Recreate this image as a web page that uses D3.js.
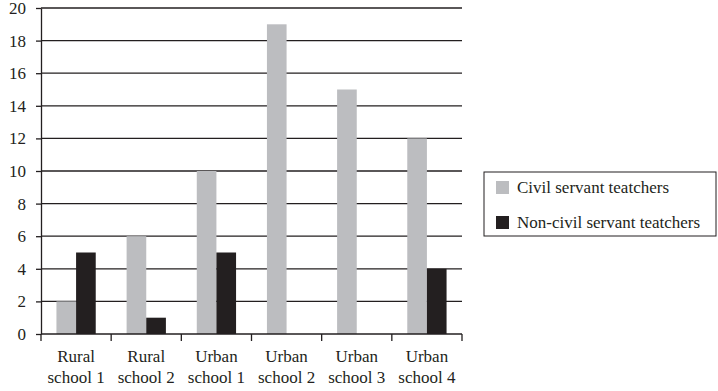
<!DOCTYPE html>
<html>
<head>
<meta charset="utf-8">
<script src="https://cdn.jsdelivr.net/npm/d3@7"></script>
<style>
  body { margin: 0; background: #fff; }
  text { font-family: "Liberation Serif", serif; }
</style>
</head>
<body>
<script>
// chart data
var schools = [["Rural", "school 1"], ["Rural", "school 2"], ["Urban", "school 1"],
               ["Urban", "school 2"], ["Urban", "school 3"], ["Urban", "school 4"]]
var civil = [2, 6, 10, 19, 15, 12]
var nonCivil = [5, 1, 5, 0, 0, 4]
var seriesNames = ["Civil servant teatchers", "Non-civil servant teatchers"]
var yTicks = [0, 2, 4, 6, 8, 10, 12, 14, 16, 18, 20]

var colors = ["#bcbdc0", "#231f20"]
var W = 718, H = 391
var margin = { top: 8, right: 256, bottom: 57, left: 41 }
var width = W - margin.left - margin.right,
    height = H - margin.top - margin.bottom

var svg = d3.select('body').append('svg')
    .attr('width', W).attr('height', H)
var g = svg.append('g').attr('transform', 'translate(' + margin.left + ',' + margin.top + ')')

var keys = schools.map(function (d, i) { return i })
var x = d3.scaleBand().domain(keys).range([0, width])
var x1 = d3.scaleBand().domain([0, 1]).range([x.bandwidth() * 0.22, x.bandwidth() * 0.78])
var y = d3.scaleLinear().domain([0, 20]).range([height, 0])

// gridlines
g.selectAll('.grid').data(yTicks.slice(1)).enter().append('line')
    .attr('x1', 0).attr('x2', width)
    .attr('y1', function (d) { return y(d) }).attr('y2', function (d) { return y(d) })
    .attr('stroke', '#231f20').attr('stroke-width', 1.3)

// bars
var rows = keys.map(function (i) { return [civil[i], nonCivil[i]] })
var groups = g.selectAll('.grp').data(rows).enter().append('g')
    .attr('transform', function (d, i) { return 'translate(' + x(i) + ',0)' })
groups.selectAll('rect').data(function (d) { return d }).enter().append('rect')
    .attr('x', function (d, j) { return x1(j) })
    .attr('width', x1.bandwidth())
    .attr('y', function (d) { return y(d) })
    .attr('height', function (d) { return height - y(d) })
    .attr('fill', function (d, j) { return colors[j] })

// y axis
var yAxis = g.append('g')
    .call(d3.axisLeft(y).tickValues(yTicks).tickSize(5).tickPadding(10).tickSizeOuter(0))
yAxis.attr('font-family', 'Liberation Serif').attr('font-size', 17)
yAxis.select('.domain').attr('stroke', '#231f20').attr('stroke-width', 1.3)
yAxis.selectAll('.tick line').attr('stroke', '#231f20').attr('stroke-width', 1.3)
yAxis.selectAll('text').attr('fill', '#231f20')

// x axis
var xAxisG = g.append('g').attr('transform', 'translate(0,' + height + ')')
xAxisG.append('line').attr('x1', 0).attr('x2', width)
    .attr('stroke', '#231f20').attr('stroke-width', 1.3)
var edges = keys.map(function (i) { return x(i) }).concat([width])
xAxisG.selectAll('.xt').data(edges).enter().append('line')
    .attr('x1', function (d) { return d }).attr('x2', function (d) { return d })
    .attr('y1', 0).attr('y2', 7)
    .attr('stroke', '#231f20').attr('stroke-width', 1.3)
schools.forEach(function (s, i) {
    var cx = x(i) + x.bandwidth() / 2
    s.forEach(function (line, k) {
        xAxisG.append('text')
            .attr('x', cx).attr('y', 28 + k * 21)
            .attr('text-anchor', 'middle')
            .attr('font-family', 'Liberation Serif').attr('font-size', 17)
            .attr('fill', '#231f20')
            .text(line)
    })
})

// legend
var legend = svg.append('g').attr('transform', 'translate(484,172)')
legend.append('rect').attr('width', 232).attr('height', 64)
    .attr('fill', '#fff').attr('stroke', '#231f20').attr('stroke-width', 1)
seriesNames.forEach(function (name, i) {
    legend.append('rect').attr('x', 12).attr('y', 9 + i * 35)
        .attr('width', 13).attr('height', 13).attr('fill', colors[i])
    legend.append('text').attr('x', 33).attr('y', 21 + i * 35)
        .attr('fill', '#231f20')
        .attr('font-family', 'Liberation Serif').attr('font-size', 17)
        .text(name)
})
</script>
</body>
</html>
